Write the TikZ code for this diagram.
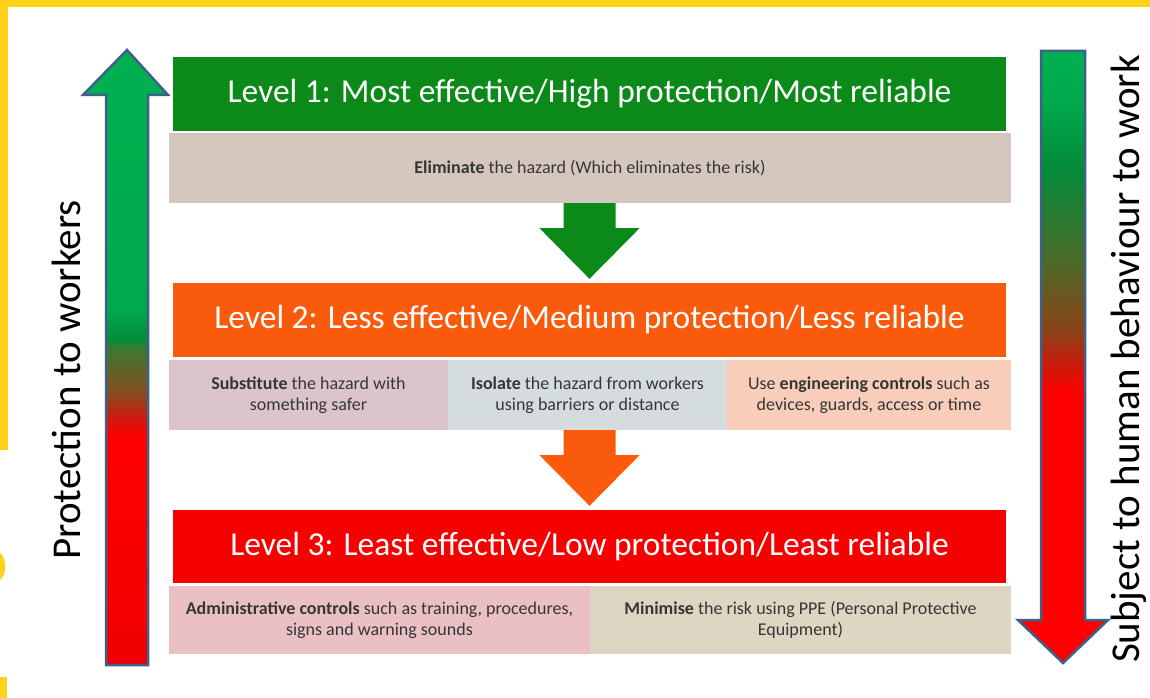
\documentclass[tikz,border=0pt]{standalone}
\usepackage{fontspec}
\setmainfont{Carlito}
\usetikzlibrary{calc}
\definecolor{yel}{HTML}{FFD21A}
\definecolor{hgreen}{HTML}{0B8A1A}
\definecolor{horange}{HTML}{F95A0C}
\definecolor{hred}{HTML}{F70000}
\definecolor{bandA}{HTML}{D6C7BE}
\definecolor{cellA}{HTML}{DCC5CA}
\definecolor{cellB}{HTML}{D4DCDE}
\definecolor{cellC}{HTML}{F8CEBA}
\definecolor{cellD}{HTML}{EBC0C4}
\definecolor{cellE}{HTML}{DED5C2}
\definecolor{txt}{HTML}{363636}
\definecolor{outl}{HTML}{3E6189}
\definecolor{gA}{HTML}{00B050}
\definecolor{gB}{HTML}{00AA4C}
\definecolor{gC}{HTML}{048A3A}
\definecolor{gD}{HTML}{3A7A30}
\definecolor{bA}{HTML}{8A4A1E}
\definecolor{rA}{HTML}{D81410}
\definecolor{rB}{HTML}{FF0000}
\definecolor{rC}{HTML}{F00000}
\definecolor{oD}{HTML}{4A6A28}
\definecolor{oE}{HTML}{8A4418}
\definecolor{oF}{HTML}{C0200E}
\pgfdeclareverticalshading{leftgrad}{100bp}{color(0bp)=(rC); color(25bp)=(rC); color(43.3bp)=(rB); color(44.9bp)=(rA); color(46.95bp)=(bA); color(50.8bp)=(gD); color(51.4bp)=(gC); color(53.9bp)=(gB); color(75bp)=(gA); color(100bp)=(gA)}
\pgfdeclareverticalshading{rightgrad}{100bp}{color(0bp)=(rB); color(25bp)=(rB); color(47.1bp)=(rB); color(49.8bp)=(oF); color(52.2bp)=(oE); color(57.9bp)=(oD); color(65.3bp)=(gC); color(71bp)=(gB); color(75bp)=(gA); color(100bp)=(gA)}
\tikzset{
  hdr/.style={minimum width=833pt, inner sep=0pt, text=white, font=\fontsize{33.5}{36}\selectfont},
  cell/.style={inner sep=0pt, text=txt, align=center, font=\fontsize{18}{21.5}\selectfont},
  sidelabel/.style={rotate=90, text=black, inner sep=0pt, font=\fontsize{41}{44}\selectfont},
  sidearrow/.style={draw=outl, line width=2.5pt, line join=miter}
}
\begin{document}
\begin{tikzpicture}[x=1pt,y=-1pt]
\useasboundingbox (0,0) rectangle (1150,698);
\fill[white] (0,0) rectangle (1150,698);
% yellow frame remnants
\fill[yel] (0,0) rectangle (1150,7);
\fill[yel] (0,0) rectangle (8,450);
\fill[yel] (0,553) .. controls (7,558) and (7,575) .. (0,580) -- cycle;
\fill[yel] (0,677) rectangle (7,698);

% side arrows
\shade[shading=leftgrad] (127,50) -- (168,95) -- (148,95) -- (148,665) -- (106,665) -- (106,95) -- (83,95) -- cycle;
\draw[sidearrow] (127,50) -- (168,95) -- (148,95) -- (148,665) -- (106,665) -- (106,95) -- (83,95) -- cycle;
\shade[shading=rightgrad] (1041,51) -- (1085,51) -- (1085,620) -- (1108,620) -- (1063,663) -- (1018,620) -- (1041,620) -- cycle;
\draw[sidearrow] (1041,51) -- (1085,51) -- (1085,620) -- (1108,620) -- (1063,663) -- (1018,620) -- (1041,620) -- cycle;
\node[sidelabel] (lp) at (66,380) {Protection to workers};
\node[sidelabel] (rs) at (1129,359) {Subject to human behaviour to work};

% Level 1
\node[hdr, fill=hgreen, minimum height=74pt] (l1) at (589.5,94) {Level 1: Most effective/High protection/Most reliable};
\node[cell, fill=bandA, minimum width=842pt, minimum height=70pt] (e1) at (590,168) {\textbf{Eliminate} the hazard (Which eliminates the risk)};

% Level 2
\node[hdr, fill=horange, minimum height=74pt] (l2) at (589.5,320) {Level 2: Less effective/Medium protection/Less reliable};
\node[cell, fill=cellA, minimum width=279pt, minimum height=70pt] (c1) at (308.5,395) {\textbf{Substitute} the hazard with\\something safer};
\node[cell, fill=cellB, minimum width=279pt, minimum height=70pt] (c2) at (587.5,395) {\textbf{Isolate} the hazard from workers\\using barriers or distance};
\node[cell, fill=cellC, minimum width=284pt, minimum height=70pt] (c3) at (869,395) {Use \textbf{engineering controls} such as\\devices, guards, access or time};

% Level 3
\node[hdr, fill=hred, minimum height=73pt] (l3) at (589.5,546.5) {Level 3: Least effective/Low protection/Least reliable};
\node[cell, fill=cellD, minimum width=421pt, minimum height=68pt] (d1) at (379.5,620) {\textbf{Administrative controls} such as training, procedures,\\signs and warning sounds};
\node[cell, fill=cellE, minimum width=421pt, minimum height=68pt] (d2) at (800.5,620) {\textbf{Minimise} the risk using PPE (Personal Protective\\Equipment)};

% block arrows between levels
\coordinate (s1) at (e1.south -| l2.north);
\fill[hgreen] ($(s1)+(-26,0)$) -- ($(s1)+(26,0)$) -- ($(s1)+(26,25)$) -- ($(s1)+(50,25)$) -- ($(l2.north)+(0,-4)$) -- ($(s1)+(-50,25)$) -- ($(s1)+(-26,25)$) -- cycle;
\coordinate (s2) at (c2.south -| l3.north);
\fill[horange] ($(s2)+(-26,0)$) -- ($(s2)+(26,0)$) -- ($(s2)+(26,25)$) -- ($(s2)+(50,25)$) -- ($(l3.north)+(0,-4)$) -- ($(s2)+(-50,25)$) -- ($(s2)+(-26,25)$) -- cycle;
\end{tikzpicture}
\end{document}
